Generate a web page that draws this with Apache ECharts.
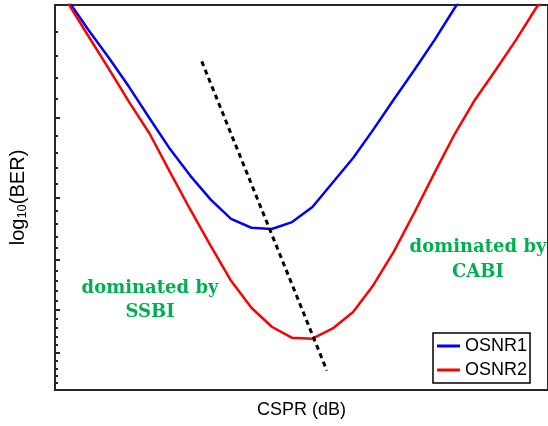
<!DOCTYPE html>
<html>
<head>
<meta charset="utf-8">
<script src="https://cdn.jsdelivr.net/npm/echarts@6/dist/echarts.min.js"></script>
<style>
  html, body { margin: 0; padding: 0; background: #fff; }
  #chart { width: 548px; height: 426px; }
</style>
</head>
<body>
<div id="chart"></div>
<script>
// CSPR steps (dB, arbitrary origin, no tick labels on the original)
const cspr = [0, 1, 2, 3, 4, 5, 6, 7, 8, 9, 10, 11, 12, 13, 14, 15, 16, 17, 18, 19, 20, 21, 22, 23, 24, 25]
// -log10(BER) style values (axis is log, inverted)
const osnr1 = [1.80, 1.97, 2.19, 2.42, 2.69, 3.01, 3.36, 3.70, 4.03, 4.32, 4.46, 4.48, 4.37, 4.14, 3.79, 3.47, 3.13, 2.81, 2.53, 2.27, 2.02, 1.81]
const osnr2 = [1.78, 1.99, 2.24, 2.52, 2.84, 3.18, 3.65, 4.18, 4.76, 5.40, 5.95, 6.37, 6.63, 6.65, 6.41, 6.04, 5.48, 4.86, 4.23, 3.66, 3.18, 2.81, 2.53, 2.27, 2.02, 1.86]
// dotted trend line through the two minima
const trendX = [7.56, 13.71]
const trendY = [2.45, 7.46]
// y ticks
const majorTicks = [3, 4, 5, 6, 7]
const minorTicks = []
for (let v = 2.2; v < 7.95; v += 0.2) {
    const r = Math.round(v * 10) / 10
    if (Math.abs(r - Math.round(r)) > 0.01) minorTicks.push(r)
}

const pair = (xs, ys) => ys.map((y, i) => [xs[i], y])

const chart = echarts.init(document.getElementById('chart'))

const axisColor = '#262626'
const yBase = {
    type: 'log',
    logBase: 10,
    min: 2,
    max: 8,
    inverse: true,
    position: 'left',
    axisLabel: { show: false },
    splitLine: { show: false }
}

const option = {
    animation: false,
    grid: { left: 53, top: 5, width: 504, height: 385, show: true, borderColor: axisColor, borderWidth: 2 },
    xAxis: {
        type: 'value',
        min: 0.346,
        max: 24.58,
        name: 'CSPR (dB)',
        nameLocation: 'middle',
        nameGap: 11,
        nameTextStyle: { fontSize: 18, color: '#000', fontFamily: 'Liberation Sans' },
        axisLine: { show: true, lineStyle: { color: axisColor, width: 2 } },
        axisTick: { show: false },
        axisLabel: { show: false },
        splitLine: { show: false }
    },
    yAxis: [
        Object.assign({}, yBase, {
            name: '{a|log}{s|10}{a|(BER)}',
            nameLocation: 'middle',
            nameGap: 26,
            nameTextStyle: {
                color: '#000',
                rich: {
                    a: { fontSize: 20, fontFamily: 'Liberation Sans', color: '#000' },
                    s: { fontSize: 13, fontFamily: 'Liberation Sans', color: '#000', padding: [9, 0, 0, 0] }
                }
            },
            axisLine: { show: true, lineStyle: { color: axisColor, width: 2 } },
            axisTick: { show: true, inside: true, length: 5, customValues: majorTicks, lineStyle: { color: axisColor, width: 2 } }
        }),
        Object.assign({}, yBase, {
            axisLine: { show: false },
            axisTick: { show: true, inside: true, length: 3, customValues: minorTicks, lineStyle: { color: axisColor, width: 2 } }
        })
    ],
    legend: {
        orient: 'vertical',
        left: 433,
        top: 333,
        padding: [4, 3, 4, 4],
        itemGap: 6,
        itemWidth: 23,
        itemHeight: 3,
        icon: 'rect',
        borderColor: '#000',
        borderWidth: 1.5,
        backgroundColor: '#fff',
        textStyle: { fontSize: 18, color: '#000', fontFamily: 'Liberation Sans' },
        data: ['OSNR1', 'OSNR2']
    },
    series: [
        {
            name: 'OSNR1',
            type: 'line',
            data: pair(cspr, osnr1),
            symbol: 'none',
            lineStyle: { color: '#0000FF', width: 2.5 },
            itemStyle: { color: '#0000FF' }
        },
        {
            name: 'OSNR2',
            type: 'line',
            data: pair(cspr, osnr2),
            symbol: 'none',
            lineStyle: { color: '#FF0000', width: 2.5 },
            itemStyle: { color: '#FF0000' }
        },
        {
            name: 'trend',
            type: 'line',
            data: pair(trendX, trendY),
            symbol: 'none',
            silent: true,
            lineStyle: { color: '#000', width: 3, type: [5, 4] }
        }
    ],
    graphic: [
        {
            type: 'text',
            x: 150,
            y: 276,
            style: {
                text: 'dominated by\nSSBI',
                font: 'bold 18px "DejaVu Serif"',
                fill: '#00B050',
                align: 'center',
                verticalAlign: 'top',
                lineHeight: 24
            }
        },
        {
            type: 'text',
            x: 478,
            y: 235,
            style: {
                text: 'dominated by\nCABI',
                font: 'bold 18px "DejaVu Serif"',
                fill: '#00B050',
                align: 'center',
                verticalAlign: 'top',
                lineHeight: 25
            }
        }
    ]
}

chart.setOption(option)
</script>
</body>
</html>
